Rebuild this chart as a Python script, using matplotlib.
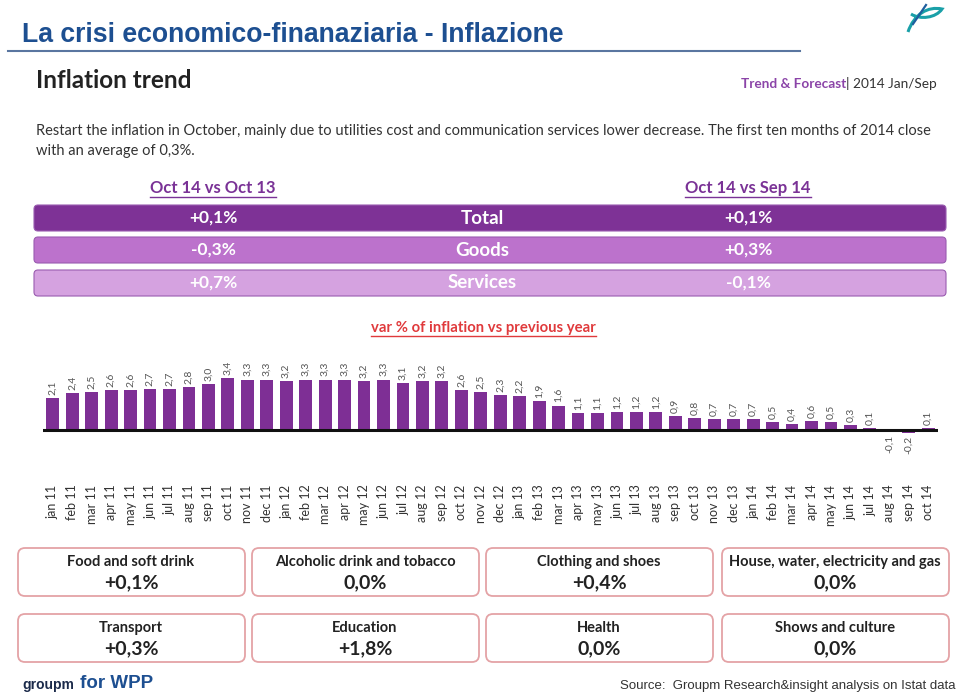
import matplotlib.pyplot as plt
from matplotlib.patches import FancyBboxPatch, PathPatch
from matplotlib.path import Path
import numpy as np

months = ['jan 11', 'feb 11', 'mar 11', 'apr 11', 'may 11', 'jun 11', 'jul 11', 'aug 11', 'sep 11', 'oct 11', 'nov 11', 'dec 11',
          'jan 12', 'feb 12', 'mar 12', 'apr 12', 'may 12', 'jun 12', 'jul 12', 'aug 12', 'sep 12', 'oct 12', 'nov 12', 'dec 12',
          'jan 13', 'feb 13', 'mar 13', 'apr 13', 'may 13', 'jun 13', 'jul 13', 'aug 13', 'sep 13', 'oct 13', 'nov 13', 'dec 13',
          'jan 14', 'feb 14', 'mar 14', 'apr 14', 'may 14', 'jun 14', 'jul 14', 'aug 14', 'sep 14', 'oct 14']
inflation = [2.1, 2.4, 2.5, 2.6, 2.6, 2.7, 2.7, 2.8, 3.0, 3.4, 3.3, 3.3,
             3.2, 3.3, 3.3, 3.3, 3.2, 3.3, 3.1, 3.2, 3.2, 2.6, 2.5, 2.3,
             2.2, 1.9, 1.6, 1.1, 1.1, 1.2, 1.2, 1.2, 0.9, 0.8, 0.7, 0.7,
             0.7, 0.5, 0.4, 0.6, 0.5, 0.3, 0.1, -0.1, -0.2, 0.1]

band_names = ['Total', 'Goods', 'Services']
vs_year = ['+0,1%', '-0,3%', '+0,7%']
vs_month = ['+0,1%', '+0,3%', '-0,1%']
band_colors = ['#7e3296', '#bc72cc', '#d5a2e0']

sectors = ['Food and soft drink', 'Alcoholic drink and tobacco', 'Clothing and shoes', 'House, water, electricity and gas',
           'Transport', 'Education', 'Health', 'Shows and culture']
sector_vals = ['+0,1%', '0,0%', '+0,4%', '0,0%', '+0,3%', '+1,8%', '0,0%', '0,0%']

W, H = 959, 693
fig = plt.figure(figsize=(W / 100, H / 100), dpi=100)

# background axes in pixel coordinates
bg = fig.add_axes([0, 0, 1, 1])
bg.set_xlim(0, W)
bg.set_ylim(H, 0)
bg.axis('off')

sans = ['Lato', 'DejaVu Sans']

# header
bg.text(22, 42, 'La crisi economico-finanaziaria - Inflazione', fontsize=19.2, fontweight='bold',
        color='#1d4f91', family=['Liberation Sans'], va='baseline')
bg.plot([8, 800], [51, 51], color='#5a76a0', lw=1.5)
# logo
verts = [(908, 32), (914, 14), (928, 6), (942, 9), (936, 18), (920, 20), (911, 14)]
bg.add_patch(PathPatch(Path(verts, [Path.MOVETO] + [Path.CURVE4] * 6), fc='none', ec='#1aa0a8', lw=2.2))
bg.plot([913, 926], [24, 5], color='#1f5e9e', lw=1.6)

bg.text(36, 80, 'Inflation trend', fontsize=17.5, fontweight='bold', color='#222222', family=sans, va='center')
bg.text(846, 84, '| 2014 Jan/Sep', fontsize=9.8, color='#333333', family=sans, va='center', ha='left')
bg.text(846, 84, 'Trend & Forecast', fontsize=9.8, fontweight='bold', color='#8b44a8', family=sans, va='center', ha='right')

bg.text(36, 131, 'Restart the inflation in October, mainly due to utilities cost and communication services lower decrease. '
        'The first ten months of 2014 close', fontsize=10.5, color='#333333', family=sans, va='center')
bg.text(36, 151, 'with an average of 0,3%.', fontsize=10.5, color='#333333', family=sans, va='center')

# comparison headers
for cx, t in [(213, 'Oct 14 vs Oct 13'), (748, 'Oct 14 vs Sep 14')]:
    bg.text(cx, 188, t, fontsize=12, fontweight='bold', color='#7a3296', family=sans, ha='center', va='center')
    bg.plot([cx - 63, cx + 63], [197, 197], color='#7a3296', lw=1)

# bands
band_tops = [205, 237, 270]
for i, name in enumerate(band_names):
    y0 = band_tops[i]
    bg.add_patch(FancyBboxPatch((34, y0), 912, 26, boxstyle='round,pad=0,rounding_size=4',
                                fc=band_colors[i], ec='#9a5cb0', lw=0.8))
    yc = y0 + 13
    bg.text(213, yc, vs_year[i], fontsize=12.5, fontweight='bold', color='white', family=sans, ha='center', va='center')
    bg.text(482, yc, name, fontsize=13.5, fontweight='bold', color='white', family=sans, ha='center', va='center')
    bg.text(748, yc, vs_month[i], fontsize=12.5, fontweight='bold', color='white', family=sans, ha='center', va='center')

bg.text(483, 328, 'var % of inflation vs previous year', fontsize=10.7, fontweight='bold', color='#e03a3c',
        family=sans, ha='center', va='center')
bg.plot([371, 596], [336, 336], color='#e03a3c', lw=1)

# sector boxes
col_x = [18, 252, 486, 722]
row_y = [548, 614]
for k, (s, v) in enumerate(zip(sectors, sector_vals)):
    x0 = col_x[k % 4]
    y0 = row_y[k // 4]
    bg.add_patch(FancyBboxPatch((x0, y0), 227, 48, boxstyle='round,pad=0,rounding_size=7',
                                fc='white', ec='#e4a3a6', lw=1.3))
    bg.text(x0 + 113, y0 + 14, s, fontsize=10.5, fontweight='bold', color='#222222', family=sans,
            ha='center', va='center')
    bg.text(x0 + 113, y0 + 35, v, fontsize=14, fontweight='bold', color='#222222', family=sans,
            ha='center', va='center')

# footer
bg.text(22, 685, 'groupm', fontsize=10, fontweight='bold', color='#1b2a4a', family=['Liberation Sans'], va='center')
bg.text(80, 684, 'for WPP', fontsize=13.5, fontweight='bold', color='#1d4f91', family=['Liberation Sans'], va='center')
bg.text(955, 686, 'Source:  Groupm Research&insight analysis on Istat data', fontsize=9.5, color='#333333',
        family=['Liberation Sans'], ha='right', va='center')

# bar chart
ax = fig.add_axes([43 / W, 1 - 448.4 / H, 895 / W, 79.6 / H])
ax.patch.set_alpha(0)
x = np.arange(len(months))
ax.bar(x, inflation, width=0.66, color='#7e2f95')
ax.axhline(0, color='#111111', lw=2.2)
for xi, v in zip(x, inflation):
    lab = ('%.1f' % v).replace('.', ',')
    if v >= 0:
        ax.text(xi, v + 0.2, lab, rotation=90, ha='center', va='bottom', fontsize=7.5, color='#555555', family=sans)
    else:
        ax.text(xi, v - 0.2, lab, rotation=90, ha='center', va='top', fontsize=7.5, color='#555555', family=sans)
ax.set_xlim(-0.5, len(months) - 0.5)
ax.set_ylim(-1.2, 4.0)
ax.set_xticks(x)
ax.set_xticklabels(months, rotation=90, fontsize=9, color='#333333', family=sans)
ax.tick_params(axis='x', length=0, pad=26)
ax.set_yticks([])
for sp in ax.spines.values():
    sp.set_visible(False)

fig.savefig('out.png', dpi=100)
